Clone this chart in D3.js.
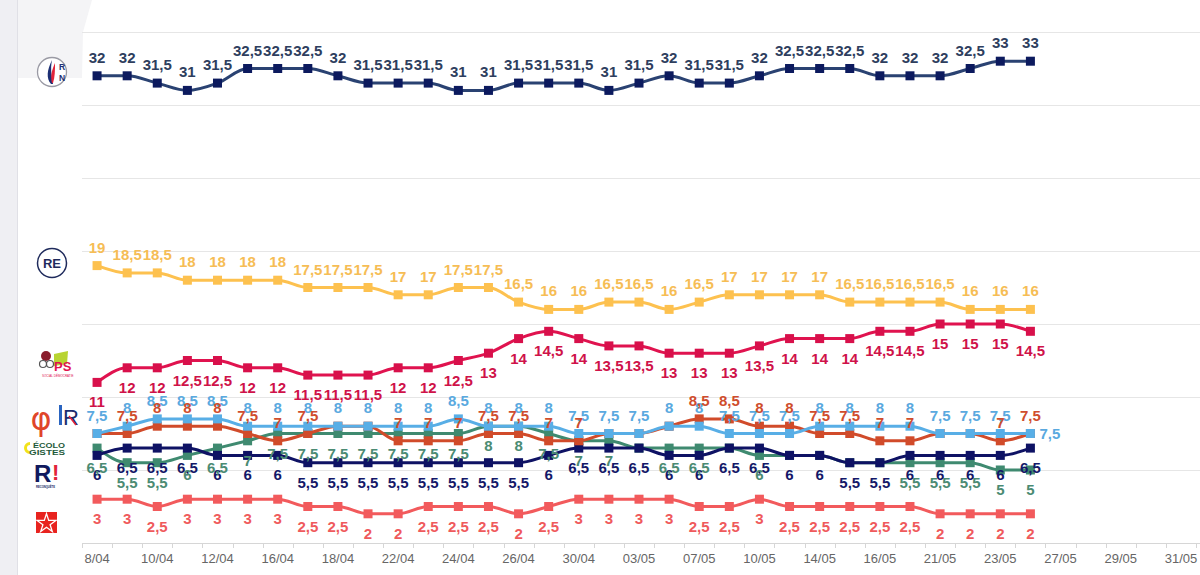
<!DOCTYPE html>
<html>
<head>
<meta charset="utf-8">
<script src="https://cdn.jsdelivr.net/npm/d3@7/dist/d3.min.js"></script>
<style>
  body { margin: 0; background: #fff; }
  svg { display: block; font-family: "Liberation Sans", Arial, sans-serif; }
</style>
</head>
<body>
<div id="plot"></div>
<script>
// one slot per poll, a date label on every second slot
const slotCount = 37;
const tickLabels = ["8/04", "10/04", "12/04", "16/04", "18/04", "22/04", "24/04", "26/04", "30/04", "03/05",
  "07/05", "10/05", "14/05", "16/05", "21/05", "23/05", "27/05", "29/05", "31/05"];

const rn  = [32, 32, 31.5, 31, 31.5, 32.5, 32.5, 32.5, 32, 31.5, 31.5, 31.5, 31, 31, 31.5, 31.5,
  31.5, 31, 31.5, 32, 31.5, 31.5, 32, 32.5, 32.5, 32.5, 32, 32, 32, 32.5, 33, 33];
const re  = [19, 18.5, 18.5, 18, 18, 18, 18, 17.5, 17.5, 17.5, 17, 17, 17.5, 17.5, 16.5, 16,
  16, 16.5, 16.5, 16, 16.5, 17, 17, 17, 17, 16.5, 16.5, 16.5, 16.5, 16, 16, 16];
const ps  = [11, 12, 12, 12.5, 12.5, 12, 12, 11.5, 11.5, 11.5, 12, 12, 12.5, 13, 14, 14.5,
  14, 13.5, 13.5, 13, 13, 13, 13.5, 14, 14, 14, 14.5, 14.5, 15, 15, 15, 14.5];
const lr  = [7.5, 8, 8.5, 8.5, 8.5, 8, 8, 8, 8, 8, 8, 8, 8.5, 8, 8, 8,
  7.5, 7.5, 7.5, 8, 8, 7.5, 7.5, 7.5, 8, 8, 8, 8, 7.5, 7.5, 7.5, 7.5];
const lfi = [7.5, 7.5, 8, 8, 8, 7.5, 7, 7.5, 8, 8, 7, 7, 7, 7.5, 7.5, 7,
  7, 7.5, 7.5, 8, 8.5, 8.5, 8, 8, 7.5, 7.5, 7, 7, 7.5, 7.5, 7, 7.5];
const rec = [6, 6.5, 6.5, 6.5, 6, 6, 6, 5.5, 5.5, 5.5, 5.5, 5.5, 5.5, 5.5, 5.5, 6,
  6.5, 6.5, 6.5, 6, 6, 6.5, 6.5, 6, 6, 5.5, 5.5, 6, 6, 6, 6, 6.5];
const eco = [6.5, 5.5, 5.5, 6, 6.5, 7, 7.5, 7.5, 7.5, 7.5, 7.5, 7.5, 7.5, 8, 8, 7.5,
  7, 7, 6.5, 6.5, 6.5, 6.5, 6, 6, 6, 5.5, 5.5, 5.5, 5.5, 5.5, 5, 5];
const pcf = [3, 3, 2.5, 3, 3, 3, 3, 2.5, 2.5, 2, 2, 2.5, 2.5, 2.5, 2, 2.5,
  3, 3, 3, 3, 2.5, 2.5, 3, 2.5, 2.5, 2.5, 2.5, 2.5, 2, 2, 2, 2];

// label priority order (first wins when two labels sit on top of each other)
const series = [
  { name: "RN",  values: rn,  line: "#2a4272", marker: "#0c1a5e", text: "#2e3e5e", pos: "above" },
  { name: "RE",  values: re,  line: "#fdc14f", marker: "#fdc14f", text: "#f6bd55", pos: "above" },
  { name: "PS",  values: ps,  line: "#e0134f", marker: "#d8104b", text: "#cf1249", pos: "below" },
  { name: "LR",  values: lr,  line: "#58aee6", marker: "#58aee6", text: "#5aa9df", pos: "above" },
  { name: "LFI", values: lfi, line: "#d14b2a", marker: "#d14b2a", text: "#cf4d2d", pos: "above" },
  { name: "REC", values: rec, line: "#0e1264", marker: "#0e1264", text: "#141868", pos: "below" },
  { name: "ECO", values: eco, line: "#3f8a70", marker: "#3f8a70", text: "#4b8b73", pos: "below" },
  { name: "PCF", values: pcf, line: "#f25a5c", marker: "#f25a5c", text: "#ef5a5c", pos: "below" }
];
// drawing order of the lines, bottom to top
const drawOrder = ["PCF", "ECO", "REC", "LFI", "LR", "PS", "RE", "RN"];

const width = 1200, height = 575;
const plotLeft = 82, plotRight = 1196, plotTop = 32, plotBottom = 543;

const svg = d3.select("div#plot")
  .append("svg")
    .attr("width", width)
    .attr("height", height);

// page background bits
svg.append("rect").attr("x", 0).attr("y", 0).attr("width", 17).attr("height", height).attr("fill", "#efeff3");
svg.append("line").attr("x1", 17.5).attr("x2", 17.5).attr("y1", 0).attr("y2", height)
  .attr("stroke", "#e0e0e6").attr("stroke-width", 1);
svg.append("path").attr("d", "M18,0 L92,0 L83,32 L82,78 L18,78 Z").attr("fill", "#f4f4f6");

const x = d3.scaleBand()
  .domain(d3.range(slotCount))
  .range([plotLeft, plotRight]);

const cx = i => x(i) + x.bandwidth() / 2;

const y = d3.scaleLinear()
  .domain([0, 35])
  .range([plotBottom, plotTop]);

// horizontal grid
svg.append("g")
  .selectAll("line")
  .data(y.ticks(7).filter(d => d > 0))
  .join("line")
    .attr("x1", plotLeft)
    .attr("x2", width)
    .attr("y1", d => Math.round(y(d)) + 0.5)
    .attr("y2", d => Math.round(y(d)) + 0.5)
    .attr("stroke", "#e6e6e6")
    .attr("stroke-width", 1);

// x axis: labels through d3.axisBottom, tick marks on the slot edges
const xAxis = svg.append("g")
  .attr("transform", `translate(0, ${plotBottom})`)
  .call(d3.axisBottom(x)
    .tickValues(d3.range(0, slotCount, 2))
    .tickFormat(i => tickLabels[i / 2])
    .tickSize(0)
    .tickPadding(11));
xAxis.select(".domain").attr("stroke", "#d6d6d6").attr("d", `M${plotLeft},0.5H${width}`);
xAxis.selectAll("text")
  .attr("fill", "#666")
  .style("font-size", "13px")
  .style("font-family", "'Liberation Sans', Arial, sans-serif");

svg.append("g")
  .selectAll("line")
  .data(d3.range(slotCount + 1))
  .join("line")
    .attr("x1", i => Math.round(i < slotCount ? x(i) : plotRight) + 0.5)
    .attr("x2", i => Math.round(i < slotCount ? x(i) : plotRight) + 0.5)
    .attr("y1", plotBottom)
    .attr("y2", plotBottom + 5)
    .attr("stroke", "#d6d6d6");

// lines and markers
const line = d3.line()
  .x((d, i) => cx(i))
  .y(d => y(d))
  .curve(d3.curveMonotoneX);

const byName = {};
series.forEach(s => byName[s.name] = s);

drawOrder.forEach(function(name) {
  const s = byName[name];
  const g = svg.append("g");
  g.append("path")
    .attr("d", line(s.values))
    .attr("fill", "none")
    .attr("stroke", s.line)
    .attr("stroke-width", 3)
    .attr("stroke-linejoin", "round");
  g.selectAll("rect")
    .data(s.values)
    .join("rect")
      .attr("x", (d, i) => cx(i) - 4.5)
      .attr("y", d => y(d) - 4.5)
      .attr("width", 9)
      .attr("height", 9)
      .attr("fill", s.marker);
});

// data labels, hiding the ones that land right on top of an earlier one
const labelLayer = svg.append("g")
  .style("font-size", "15px")
  .style("font-weight", "bold");
const kept = [];

function overlapShare(a, b) {
  const w = Math.min(a.x + a.width, b.x + b.width) - Math.max(a.x, b.x);
  const h = Math.min(a.y + a.height, b.y + b.height) - Math.max(a.y, b.y);
  if (w <= 0 || h <= 0) return 0;
  return (w * h) / Math.min(a.width * a.height, b.width * b.height);
}

function findCollision(box) {
  return kept.find(k => overlapShare(k.box, box) > 0.8);
}

series.forEach(function(s) {
  s.values.forEach(function(v, i) {
    const px = cx(i), py = y(v);
    const t = labelLayer.append("text")
      .attr("x", px)
      .attr("y", s.pos === "above" ? py - 13 : py + 25)
      .attr("text-anchor", "middle")
      .attr("fill", s.text)
      .text(String(v).replace(".", ","));
    const box = t.node().getBBox();
    const hit = findCollision(box);
    if (hit) {
      if (i === s.values.length - 1) {
        // on the last poll there is room on the right: push the earlier label there
        hit.node.attr("x", hit.px + 9).attr("y", hit.py + 5).attr("text-anchor", "start");
        hit.box = hit.node.node().getBBox();
      } else {
        t.remove();
        return;
      }
    }
    kept.push({ node: t, box: box, px: px, py: py });
  });
});

// party logos (simplified)
const logos = svg.append("g");

// RN
logos.append("circle").attr("cx", 52).attr("cy", 72).attr("r", 14.5)
  .attr("fill", "#fff").attr("stroke", "#9a9aa4").attr("stroke-width", 1.3);
logos.append("path").attr("d", "M51,84 C46,78 47,70 52,60 C50,70 52,76 53,84 Z").attr("fill", "#1c2f74");
logos.append("path").attr("d", "M52,83 C50,76 52,70 55,63 C55,70 55,77 53,83 Z").attr("fill", "#e2243a");
logos.append("text").attr("x", 62).attr("y", 70).attr("text-anchor", "middle")
  .style("font-size", "8.5px").style("font-weight", "bold").attr("fill", "#1c2f74").text("R");
logos.append("text").attr("x", 62).attr("y", 81).attr("text-anchor", "middle")
  .style("font-size", "8.5px").style("font-weight", "bold").attr("fill", "#1c2f74").text("N");

// RE
logos.append("circle").attr("cx", 52).attr("cy", 263).attr("r", 14.5)
  .attr("fill", "#fff").attr("stroke", "#1f2b5c").attr("stroke-width", 1.5);
logos.append("text").attr("x", 52).attr("y", 268).attr("text-anchor", "middle")
  .style("font-size", "13px").style("font-weight", "bold").attr("fill", "#1f2b5c").text("RE");

// PS
logos.append("path").attr("d", "M54,354 L68,351 L67,364 L54,366 Z").attr("fill", "#b8d432");
logos.append("circle").attr("cx", 46).attr("cy", 356).attr("r", 5).attr("fill", "#8a1c2c");
logos.append("circle").attr("cx", 43).attr("cy", 364).attr("r", 3.5).attr("fill", "none").attr("stroke", "#555").attr("stroke-width", 1.2);
logos.append("circle").attr("cx", 50).attr("cy", 364).attr("r", 3.5).attr("fill", "none").attr("stroke", "#555").attr("stroke-width", 1.2);
logos.append("text").attr("x", 54).attr("y", 371)
  .style("font-size", "13px").style("font-weight", "bold").attr("fill", "#e0134f").text("PS");
logos.append("text").attr("x", 42).attr("y", 376.5)
  .style("font-size", "3px").attr("fill", "#e0134f").text("SOCIAL DÉMOCRATIE");

// LFI + LR
logos.append("text").attr("x", 41).attr("y", 430).attr("text-anchor", "middle")
  .style("font-size", "32px").style("font-family", "'DejaVu Sans', sans-serif").attr("fill", "#e0452a").text("φ");
logos.append("rect").attr("x", 59).attr("y", 405).attr("width", 3).attr("height", 20).attr("fill", "#2a64c0");
logos.append("text").attr("x", 63).attr("y", 425)
  .style("font-size", "22px").attr("fill", "#1b2d6e").text("R");
logos.append("line").attr("x1", 69).attr("x2", 76).attr("y1", 416).attr("y2", 425)
  .attr("stroke", "#e2243a").attr("stroke-width", 1.5);

// Écologistes
logos.append("path").attr("d", "M30,442 A6,6 0 1,0 30,454 L30,451 A3,3 0 1,1 30,445 Z").attr("fill", "#f2e21a");
logos.append("text").attr("x", 33).attr("y", 447.5).attr("textLength", 32).attr("lengthAdjust", "spacingAndGlyphs")
  .style("font-size", "7.5px").style("font-weight", "bold").attr("fill", "#1e5a3a").text("ÉCOLO");
logos.append("text").attr("x", 29).attr("y", 455).attr("textLength", 36).attr("lengthAdjust", "spacingAndGlyphs")
  .style("font-size", "7.5px").style("font-weight", "bold").attr("fill", "#1e5a3a").text("GISTES");

// Reconquête
logos.append("text").attr("x", 34).attr("y", 482)
  .style("font-size", "24px").style("font-weight", "bold").attr("fill", "#111a5e").text("R");
logos.append("text").attr("x", 52).attr("y", 480)
  .style("font-size", "22px").style("font-weight", "bold").attr("fill", "#e2243a").text("!");
logos.append("text").attr("x", 36).attr("y", 488).attr("textLength", 19).attr("lengthAdjust", "spacingAndGlyphs")
  .style("font-size", "3px").style("font-weight", "bold").attr("fill", "#111a5e").text("RECONQUÊTE");

// PCF
logos.append("rect").attr("x", 36).attr("y", 512).attr("width", 21).attr("height", 21).attr("fill", "#e8231f");
logos.append("path")
  .attr("d", d3.symbol().type(d3.symbolStar).size(110)())
  .attr("transform", "translate(46.5, 523.5)")
  .attr("fill", "none").attr("stroke", "#fff").attr("stroke-width", 1.3);
</script>
</body>
</html>
